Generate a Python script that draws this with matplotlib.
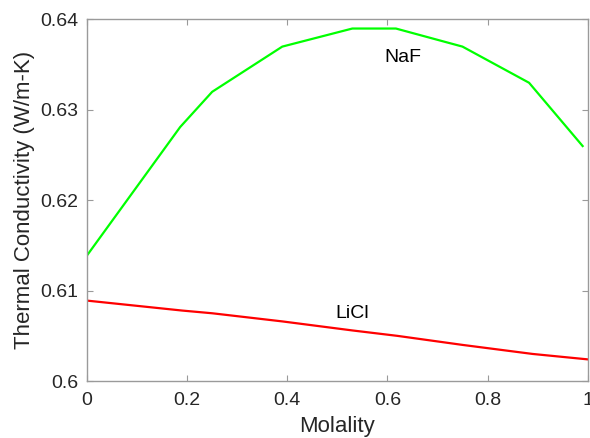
import matplotlib
matplotlib.use("Agg")
import matplotlib.pyplot as plt
from matplotlib.ticker import FixedLocator, FixedFormatter

# molality grid and thermal conductivity (W/m-K) of the two solutions
molality_naf = [0.0, 0.186, 0.25, 0.39, 0.53, 0.617, 0.75, 0.883, 0.99]
k_naf = [0.6139, 0.6281, 0.6320, 0.6370, 0.6390, 0.6390, 0.6370, 0.6330, 0.6260]

molality_licl = [0.0, 0.19, 0.25, 0.39, 0.53, 0.62, 0.75, 0.89, 1.0]
k_licl = [0.6089, 0.6078, 0.6075, 0.6066, 0.6056, 0.6050, 0.6040, 0.6030, 0.6024]

xticks = [0, 0.2, 0.4, 0.6, 0.8, 1.0]
xticklabels = ["0", "0.2", "0.4", "0.6", "0.8", "1"]
yticks = [0.60, 0.61, 0.62, 0.63, 0.64]
yticklabels = ["0.6", "0.61", "0.62", "0.63", "0.64"]

plt.rcParams["font.family"] = ["Liberation Sans", "DejaVu Sans"]

fig = plt.figure(figsize=(5.9, 4.38), dpi=100)
ax = fig.add_axes([0.1475, 0.130, 0.8485, 0.8255])

ax.plot(molality_naf, k_naf, color="#00ff00", lw=1.6)
ax.plot(molality_licl, k_licl, color="#ff0000", lw=1.6)

ax.text(0.631, 0.63533, "NaF", fontsize=14, ha="center", va="baseline", color="black")
ax.text(0.529, 0.60698, "LiCl", fontsize=14, ha="center", va="baseline", color="black")

ax.set_xlim(0, 1)
ax.set_ylim(0.6, 0.64)
ax.xaxis.set_major_locator(FixedLocator(xticks))
ax.xaxis.set_major_formatter(FixedFormatter(xticklabels))
ax.yaxis.set_major_locator(FixedLocator(yticks))
ax.yaxis.set_major_formatter(FixedFormatter(yticklabels))

for s in ax.spines.values():
    s.set_color("#9a9a9a")
    s.set_linewidth(1.0)
ax.tick_params(direction="in", top=True, right=True, length=4, width=0.8,
               color="#9a9a9a", labelcolor="#262626", labelsize=14)
ax.tick_params(axis="x", pad=8)
ax.tick_params(axis="y", pad=6)

ax.set_xlabel("Molality", fontsize=16, color="#262626", labelpad=5)
ax.set_ylabel("Thermal Conductivity (W/m-K)", fontsize=16, color="#262626", labelpad=4)

fig.savefig("out.png", dpi=100)
